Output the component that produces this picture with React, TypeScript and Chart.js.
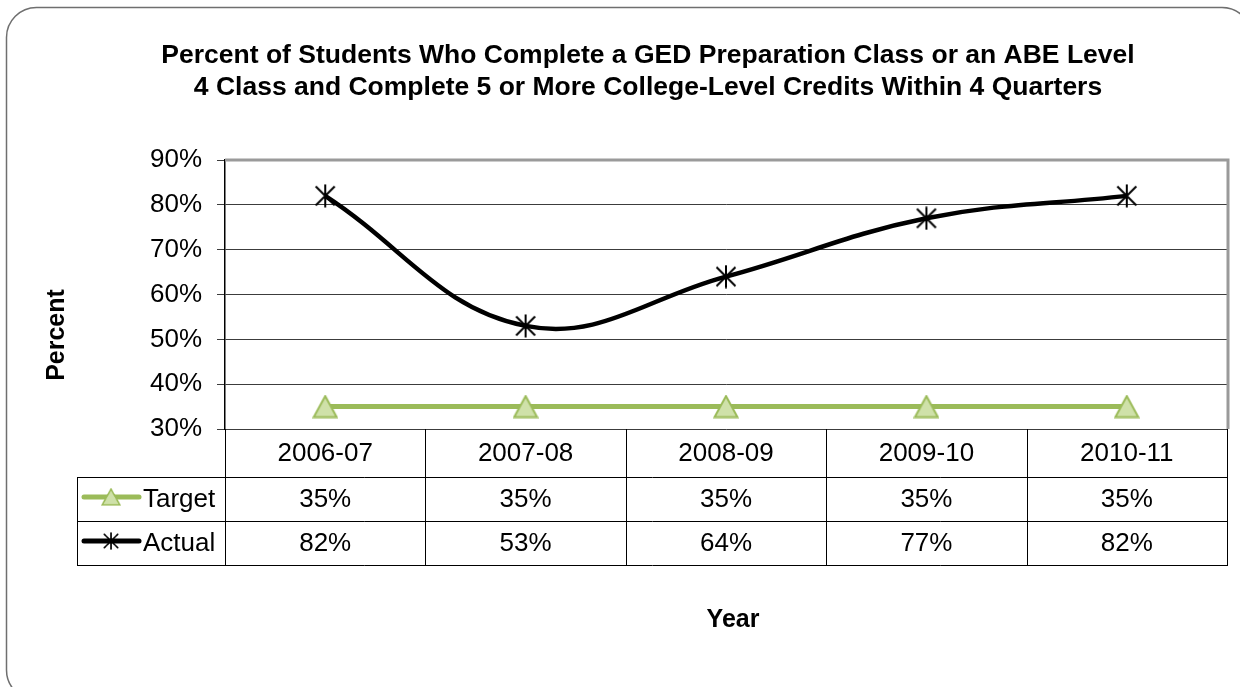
import React, { useEffect, useRef } from "react";
import { Chart, registerables } from "chart.js";

Chart.register(...registerables);

const categories = ["2006-07", "2007-08", "2008-09", "2009-10", "2010-11"];
const targetValues = [35, 35, 35, 35, 35];
const actualValues = [82, 53, 64, 77, 82];
const seriesNames = ["Target", "Actual"];
const titleLines = [
  "Percent of Students Who Complete a GED Preparation Class or an ABE Level",
  "4 Class and Complete 5 or More College-Level Credits Within 4 Quarters",
];
const yAxisTitle = "Percent";
const xAxisTitle = "Year";
const yMin = 30;
const yMax = 90;
const yStep = 10;

const FONT = "'Liberation Sans', Arial, sans-serif";
const GREEN = "#9bbb59";
const GREEN_FILL = "#cfe1a9";

function makeStar(): HTMLCanvasElement {
  const c = document.createElement("canvas");
  c.width = 24;
  c.height = 24;
  const g = c.getContext("2d")!;
  g.strokeStyle = "#000";
  g.lineWidth = 2;
  g.beginPath();
  g.moveTo(2.5, 2.5);
  g.lineTo(21.5, 21.5);
  g.moveTo(21.5, 2.5);
  g.lineTo(2.5, 21.5);
  g.moveTo(12, 0.5);
  g.lineTo(12, 23.5);
  g.stroke();
  return c;
}

function makeTriangle(): HTMLCanvasElement {
  const c = document.createElement("canvas");
  c.width = 26;
  c.height = 24;
  const g = c.getContext("2d")!;
  g.fillStyle = GREEN_FILL;
  g.strokeStyle = GREEN;
  g.lineWidth = 2;
  g.beginPath();
  g.moveTo(13, 1.5);
  g.lineTo(24.5, 22.5);
  g.lineTo(1.5, 22.5);
  g.closePath();
  g.fill();
  g.stroke();
  return c;
}

export default function App() {
  const ref = useRef<HTMLCanvasElement | null>(null);

  useEffect(() => {
    const canvas = ref.current;
    if (!canvas) return;
    const star = makeStar();
    const tri = makeTriangle();

    const framePlugin = {
      id: "frameAndTable",
      beforeDraw(chart: any) {
        const ctx = chart.ctx as CanvasRenderingContext2D;
        ctx.save();
        ctx.fillStyle = "#fff";
        ctx.fillRect(0, 0, chart.width, chart.height);
        const x0 = 6.5, y0 = 7.5, x1 = 1252, y1 = 700, r = 30;
        ctx.strokeStyle = "#6f6f6f";
        ctx.lineWidth = 1.5;
        ctx.beginPath();
        ctx.moveTo(x0 + r, y0);
        ctx.lineTo(x1 - r, y0);
        ctx.arcTo(x1, y0, x1, y0 + r, r);
        ctx.lineTo(x1, y1 - r);
        ctx.arcTo(x1, y1, x1 - r, y1, r);
        ctx.lineTo(x0 + r, y1);
        ctx.arcTo(x0, y1, x0, y1 - r, r);
        ctx.lineTo(x0, y0 + r);
        ctx.arcTo(x0, y0, x0 + r, y0, r);
        ctx.closePath();
        ctx.stroke();
        ctx.restore();
      },
      afterDraw(chart: any) {
        const ctx = chart.ctx as CanvasRenderingContext2D;
        const { left, right, top, bottom } = chart.chartArea;
        const xs = chart.scales.x;
        ctx.save();

        // plot area border (top & right)
        ctx.strokeStyle = "#9a9a9a";
        ctx.lineWidth = 3;
        ctx.beginPath();
        ctx.moveTo(left, top);
        ctx.lineTo(right + 1, top);
        ctx.lineTo(right + 1, bottom);
        ctx.stroke();

        // Title
        ctx.fillStyle = "#000";
        ctx.textAlign = "center";
        ctx.textBaseline = "middle";
        ctx.font = `bold 26.5px ${FONT}`;
        titleLines.forEach((t, i) => ctx.fillText(t, 648, 56 + i * 32));

        // Axis titles
        ctx.font = `bold 25px ${FONT}`;
        ctx.fillText(xAxisTitle, 733, 620);
        ctx.save();
        ctx.translate(57, 335);
        ctx.rotate(-Math.PI / 2);
        ctx.fillText(yAxisTitle, 0, 0);
        ctx.restore();

        // Data table
        const step = xs.getPixelForValue(1) - xs.getPixelForValue(0);
        const headBottom = bottom + 48;
        const rowH = 44;
        const tableBottom = headBottom + rowH * 2;
        const legendLeft = 77;
        ctx.strokeStyle = "#000";
        ctx.lineWidth = 1;
        ctx.beginPath();
        for (let i = 0; i <= categories.length; i++) {
          const px = Math.round(xs.getPixelForValue(0) - step / 2 + i * step) + 0.5;
          ctx.moveTo(px, bottom);
          ctx.lineTo(px, tableBottom);
        }
        ctx.moveTo(legendLeft + 0.5, headBottom);
        ctx.lineTo(legendLeft + 0.5, tableBottom);
        for (let r = 0; r <= 2; r++) {
          const py = headBottom + r * rowH + 0.5;
          ctx.moveTo(legendLeft, py);
          ctx.lineTo(right + 1, py);
        }
        ctx.stroke();

        ctx.font = `26px ${FONT}`;
        ctx.fillStyle = "#000";
        ctx.textAlign = "center";
        categories.forEach((c, i) => {
          const px = xs.getPixelForValue(i);
          ctx.fillText(c, px, (bottom + headBottom) / 2 + 1);
          ctx.fillText(`${targetValues[i]}%`, px, headBottom + rowH / 2 + 1);
          ctx.fillText(`${actualValues[i]}%`, px, headBottom + rowH * 1.5 + 1);
        });

        // legend keys
        const keyX0 = 84, keyX1 = 139, keyMid = 111;
        const y1 = headBottom + rowH / 2 - 2;
        const y2 = headBottom + rowH * 1.5 - 2;
        ctx.lineCap = "round";
        ctx.strokeStyle = GREEN;
        ctx.lineWidth = 5;
        ctx.beginPath();
        ctx.moveTo(keyX0, y1);
        ctx.lineTo(keyX1, y1);
        ctx.stroke();
        ctx.drawImage(tri, keyMid - 10, y1 - 9, 20, 18);
        ctx.strokeStyle = "#000";
        ctx.beginPath();
        ctx.moveTo(keyX0, y2);
        ctx.lineTo(keyX1, y2);
        ctx.stroke();
        ctx.drawImage(star, keyMid - 9, y2 - 9, 18, 18);

        ctx.textAlign = "left";
        ctx.fillStyle = "#000";
        ctx.fillText(seriesNames[0], 143, headBottom + rowH / 2 + 1);
        ctx.fillText(seriesNames[1], 143, headBottom + rowH * 1.5 + 1);

        ctx.restore();
      },
    };

    const chart = new Chart(canvas, {
      type: "line",
      data: {
        labels: categories,
        datasets: [
          {
            label: seriesNames[0],
            data: targetValues,
            borderColor: GREEN,
            backgroundColor: GREEN_FILL,
            borderWidth: 5,
            pointStyle: tri as any,
            pointRadius: 12,
            tension: 0,
          },
          {
            label: seriesNames[1],
            data: actualValues,
            borderColor: "#000",
            backgroundColor: "#000",
            borderWidth: 4.5,
            pointStyle: star as any,
            pointRadius: 12,
            tension: 0.4,
          },
        ],
      },
      options: {
        responsive: false,
        animation: false,
        layout: { autoPadding: false, padding: { left: 0, top: 160, right: 13, bottom: 258 } },
        plugins: {
          legend: { display: false },
          title: { display: false },
          tooltip: { enabled: false },
        },
        scales: {
          x: { display: false, offset: true },
          y: {
            min: yMin,
            max: yMax,
            afterFit: (s: any) => {
              s.width = 225;
            },
            ticks: {
              stepSize: yStep,
              padding: 15,
              color: "#000",
              font: { family: FONT, size: 26 },
              callback: (v: any) => `${v}%`,
            },
            grid: { color: "#3c3c3c", lineWidth: 1, tickLength: 8, drawTicks: true },
            border: { display: true, color: "#000", width: 1.5 },
          },
        },
      },
      plugins: [framePlugin],
    });
    return () => chart.destroy();
  }, []);

  return (
    <canvas
      ref={ref}
      width={1240}
      height={687}
      style={{ position: "absolute", left: 0, top: 0, display: "block", width: 1240, height: 687 }}
    />
  );
}
